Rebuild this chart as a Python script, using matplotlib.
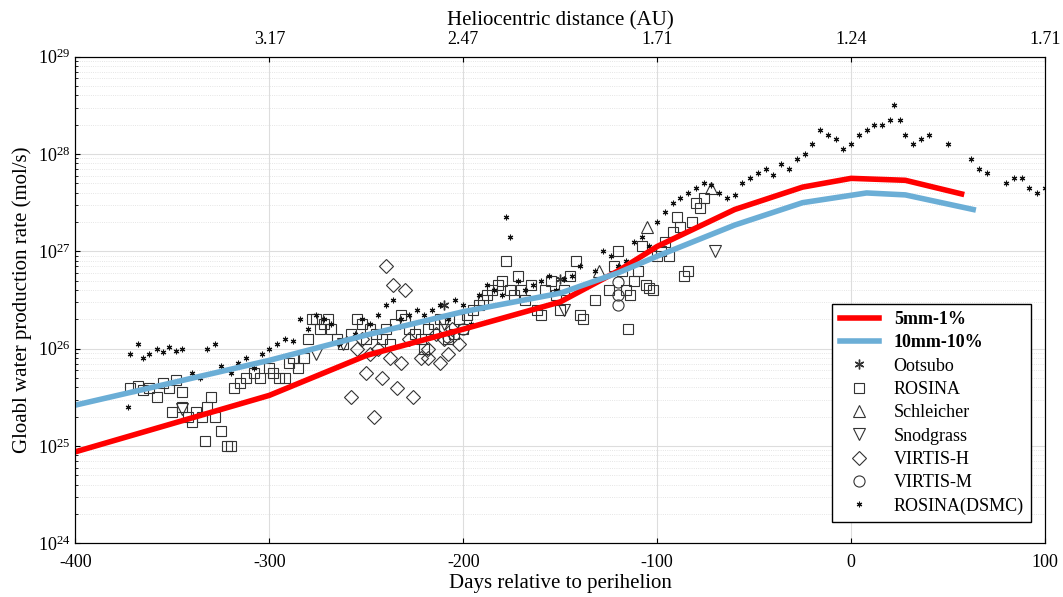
import numpy as np
import matplotlib.pyplot as plt

plt.rcParams['font.family'] = ['Liberation Serif', 'DejaVu Serif']
plt.rcParams['mathtext.fontset'] = 'stix'

# model curves: days, log10(Q)
red_days = [-400, -300, -250, -200, -150, -120, -100, -60, -25, 0, 28, 57]
red_logq = [24.94, 25.52, 25.93, 26.2, 26.48, 26.8, 27.05, 27.43, 27.66, 27.75, 27.73, 27.59]
blue_days = [-400, -300, -250, -200, -150, -120, -100, -60, -25, 8, 28, 63]
blue_logq = [25.42, 25.88, 26.14, 26.38, 26.57, 26.78, 26.95, 27.27, 27.5, 27.6, 27.58, 27.43]

rosina_days = [-372, -368, -365, -362, -358, -355, -352, -348, -345, -342, -340, -338, -335, -332, -330,
               -328, -325, -322, -320, -333, -345, -350, -318, -315, -312, -308, -305, -300, -298, -295,
               -292, -290, -288, -285, -282, -280, -278, -276, -274, -272, -270, -268, -265, -262, -258,
               -255, -252, -250, -248, -245, -242, -240, -238, -235, -232, -230, -228, -225, -222, -220,
               -218, -215, -212, -210, -208, -205, -202, -200, -198, -195, -192, -190, -188, -185, -182,
               -180, -178, -176, -174, -172, -170, -168, -165, -162, -160, -158, -155, -152, -150, -148,
               -145, -142, -140, -138, -132, -125, -122, -120, -118, -116, -114, -112, -110, -108, -106,
               -104, -102, -100, -98, -96, -94, -92, -90, -88, -86, -84, -82, -80, -78, -115, -76]
rosina_logq = [25.6, 25.62, 25.58, 25.6, 25.5, 25.65, 25.6, 25.68, 25.55, 25.3, 25.25, 25.35, 25.3, 25.4, 25.5,
               25.3, 25.15, 25.0, 25.0, 25.05, 25.4, 25.35, 25.6, 25.65, 25.7, 25.75, 25.7, 25.8, 25.75, 25.7,
               25.7, 25.85, 25.9, 25.8, 25.9, 26.1, 26.3, 26.3, 26.2, 26.25, 26.3, 26.2, 26.1, 26.05, 26.15,
               26.3, 26.25, 26.1, 26.2, 26.15, 26.1, 26.2, 26.05, 26.25, 26.35, 26.3, 26.2, 26.15, 26.1, 26.0,
               26.2, 26.25, 26.3, 26.2, 26.1, 26.15, 26.3, 26.2, 26.35, 26.4, 26.45, 26.5, 26.55, 26.6, 26.65,
               26.7, 26.9, 26.6, 26.55, 26.75, 26.6, 26.5, 26.65, 26.4, 26.35, 26.6, 26.7, 26.55, 26.4, 26.6,
               26.75, 26.9, 26.35, 26.3, 26.5, 26.6, 26.85, 27.0, 26.8, 26.6, 26.55, 26.7, 26.8, 27.05, 26.65,
               26.62, 26.6, 26.95, 27.0, 27.1, 26.95, 27.2, 27.35, 27.25, 26.75, 26.8, 27.3, 27.5, 27.45, 26.2, 27.55]

dsmc_days = [-372, -368, -365, -362, -358, -355, -352, -348, -345, -340, -336, -332, -328, -325, -320, -316,
             -312, -308, -304, -300, -296, -292, -288, -284, -280, -276, -272, -268, -264, -260, -256, -252,
             -248, -244, -240, -236, -232, -228, -224, -220, -216, -212, -208, -204, -200, -196, -192, -188,
             -184, -180, -178, -176, -172, -168, -164, -160, -156, -152, -148, -144, -140, -136, -132, -128,
             -124, -120, -116, -112, -108, -104, -100, -96, -92, -88, -84, -80, -76, -72, -68, -64, -60, -56,
             -52, -48, -44, -40, -36, -32, -28, -24, -20, -16, -12, -8, -4, 0, 4, 8, 12, 16, 20, 22, 25, 28,
             32, 36, 40, 50, 62, 66, 70, 80, 84, 88, 92, 96, 100, -373]
dsmc_logq = [25.95, 26.05, 25.9, 25.95, 26.0, 25.97, 26.02, 25.98, 26.0, 25.75, 25.7, 26.0, 26.05, 25.82, 25.75, 25.85,
             25.9, 25.8, 25.95, 26.0, 26.05, 26.1, 26.08, 26.3, 26.2, 26.35, 26.3, 26.25, 26.05, 26.1, 26.15, 26.3,
             26.25, 26.35, 26.45, 26.5, 26.3, 26.35, 26.4, 26.35, 26.4, 26.45, 26.3, 26.5, 26.45, 26.25, 26.55, 26.65,
             26.6, 26.55, 27.35, 27.15, 26.7, 26.6, 26.65, 26.7, 26.75, 26.6, 26.72, 26.75, 26.85, 26.65, 26.8, 27.0,
             26.95, 26.85, 26.9, 27.1, 27.15, 27.05, 27.3, 27.4, 27.5, 27.55, 27.6, 27.65, 27.7, 27.68, 27.6, 27.55,
             27.58, 27.7, 27.75, 27.8, 27.85, 27.78, 27.9, 27.85, 27.95, 28.0, 28.1, 28.25, 28.2, 28.15, 28.05, 28.1,
             28.2, 28.25, 28.3, 28.3, 28.35, 28.5, 28.35, 28.2, 28.1, 28.15, 28.2, 28.1, 27.95, 27.85, 27.8, 27.7,
             27.75, 27.75, 27.65, 27.6, 27.65, 25.4]

ootsubo_days = [-210, -150]
ootsubo_logq = [26.45, 26.72]
schleicher_days = [-72, -105, -130]
schleicher_logq = [27.65, 27.25, 26.8]
snodgrass_days = [-345, -276, -262, -210, -148, -70]
snodgrass_logq = [25.38, 25.95, 26.05, 26.25, 26.4, 27.0]
virtish_days = [-240, -236, -230, -258, -246, -242, -238, -234, -226, -222, -255, -250, -244, -232, -228,
                -218, -214, -210, -206, -202, -252, -248, -218, -212, -208]
virtish_logq = [26.85, 26.65, 26.6, 25.5, 25.3, 25.7, 25.9, 25.6, 25.5, 25.9, 26.0, 25.75, 26.0, 25.85, 26.1,
                26.0, 26.15, 26.1, 26.2, 26.05, 26.1, 25.95, 25.9, 25.85, 25.95]
virtism_days = [-120, -120, -120, -200, -208]
virtism_logq = [26.55, 26.68, 26.45, 26.2, 26.12]

top_ticks = [-300, -200, -100, 0, 100]
top_labels = ['3.17', '2.47', '1.71', '1.24', '1.71']

fig, ax = plt.subplots(figsize=(10.63, 5.97), dpi=100)
fig.subplots_adjust(left=0.071, right=0.983, bottom=0.09, top=0.905)

p = lambda v: 10 ** np.array(v)
ax.plot(red_days, p(red_logq), color='#ff0000', lw=4, label='5mm-1%', zorder=3)
ax.plot(blue_days, p(blue_logq), color='#6baed6', lw=4, label='10mm-10%', zorder=3)
mk = dict(mfc='none', mec='#333333', ls='none', mew=0.8)
ax.plot(ootsubo_days, p(ootsubo_logq), marker=(6, 2, 0), ms=7, color='#333333', ls='none', label='Ootsubo')
ax.plot(rosina_days, p(rosina_logq), marker='s', ms=7, label='ROSINA', **mk)
ax.plot(schleicher_days, p(schleicher_logq), marker='^', ms=9, label='Schleicher', **mk)
ax.plot(snodgrass_days, p(snodgrass_logq), marker='v', ms=9, label='Snodgrass', **mk)
ax.plot(virtish_days, p(virtish_logq), marker='D', ms=7, label='VIRTIS-H', **mk)
ax.plot(virtism_days, p(virtism_logq), marker='o', ms=8, label='VIRTIS-M', **mk)
ax.plot(dsmc_days, p(dsmc_logq), marker=(6, 2, 0), ms=4, color='#111111', ls='none', mew=0.8,
        label='ROSINA(DSMC)')

ax.set_yscale('log')
ax.set_xlim(-400, 100)
ax.set_ylim(1e24, 1e29)
ax.set_xticks([-400, -300, -200, -100, 0, 100])
ax.set_xticklabels(['-400', '-300', '-200', '-100', '0', '100'])
ax.grid(True, which='major', color='#dddddd', lw=0.8)
ax.grid(True, which='minor', axis='y', color='#dddddd', lw=0.6, ls=':')
ax.tick_params(labelsize=13, direction='in', which='both', top=False, right=False)
ax.tick_params(axis='x', pad=8)
ax.set_xlabel('Days relative to perihelion', fontsize=15, labelpad=2)
ax.set_ylabel('Gloabl water production rate (mol/s)', fontsize=15)

ax2 = ax.twiny()
ax2.set_xlim(ax.get_xlim())
ax2.set_xticks(top_ticks)
ax2.set_xticklabels(top_labels)
ax2.tick_params(labelsize=13, direction='in', pad=6)
ax2.set_xlabel('Heliocentric distance (AU)', fontsize=15)

leg = ax.legend(loc='lower right', bbox_to_anchor=(0.995, 0.025), fontsize=13, fancybox=False,
                edgecolor='black', framealpha=1, handlelength=2.2, borderpad=0.4, labelspacing=0.35)
for t in leg.get_texts()[:2]:
    t.set_fontweight('bold')

fig.savefig('out.png')
